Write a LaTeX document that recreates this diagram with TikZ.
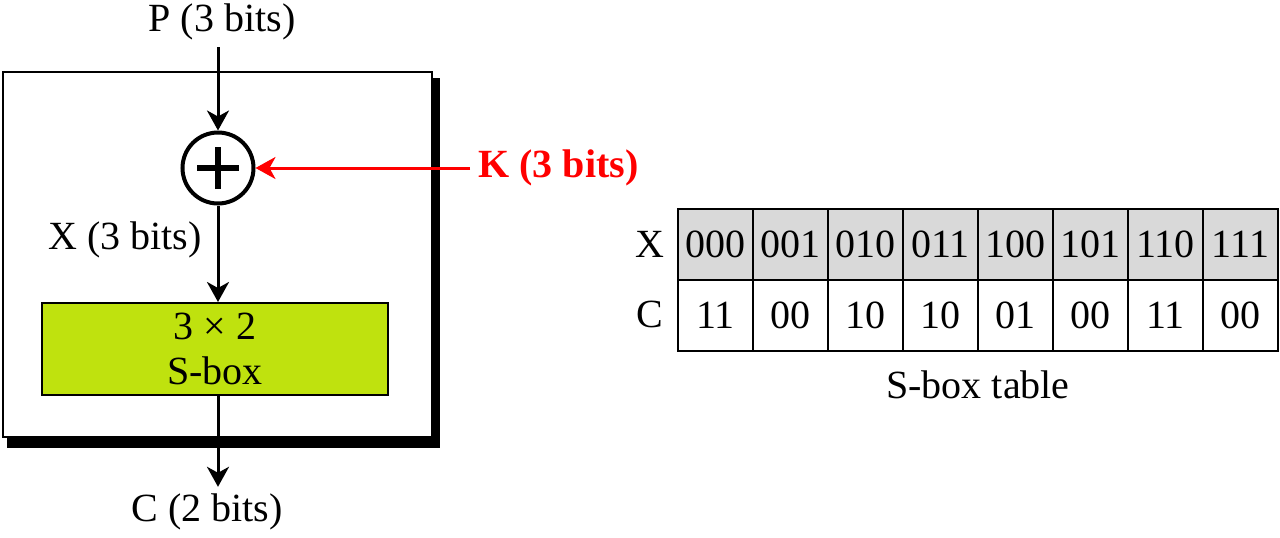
\documentclass[tikz,border=0pt]{standalone}
\usepackage{fontspec}
\setmainfont{Liberation Serif}
\usetikzlibrary{arrows.meta}
\definecolor{sboxgreen}{RGB}{191,226,14}
\definecolor{headgray}{RGB}{217,217,217}

\begin{document}
\begin{tikzpicture}[
		x=0.5pt, y=-0.5pt,
		every node/.style={font=\fontsize{20}{22.5}\selectfont},
		flow/.style={-{Stealth[length=10pt, width=11pt, inset=3pt]}, line width=1.5pt},
		cell/.style={rectangle, draw, line width=1pt, minimum width=37.5pt, minimum height=35.5pt, inner sep=0pt}
	]
  \useasboundingbox (0,0) rectangle (1280,537);

  % frame with its shadow
  \fill (7,78) rectangle (440,448);
  \draw [fill=white, line width=1pt] (3,72) rectangle (432,437);

  \node (P) at (222,22) {P (3 bits)};
  \node (xor) [circle, draw, line width=2pt, minimum size=35.5pt, inner sep=0pt] at (218,168) {};
  \node (K) [anchor=west, inner sep=4pt, text=red, font=\fontsize{20}{22.5}\selectfont\bfseries] at (470,168) {K (3 bits)};
  \node (X) at (125,240) {X (3 bits)};
  \node (sbox) [rectangle, draw, fill=sboxgreen, line width=1pt, minimum width=173pt, minimum height=46pt, align=center] at (215,349) {3 × 2\\S-box};
  \node (C) at (207,512) {C (2 bits)};

  \draw [line width=3pt] ([xshift=-10.5pt]xor.center) -- ([xshift=10.5pt]xor.center);
  \draw [line width=3pt] ([yshift=-10.5pt]xor.center) -- ([yshift=10.5pt]xor.center);

  \draw [flow] (P.south -| xor.north) -- (xor.north);
  \draw [flow, red] (K.west) -- (xor.east);
  \draw [flow] (xor.south) -- (xor.south |- sbox.north);
  \draw [flow] (sbox.south -| xor.south) -- (C.north -| xor.south);

  % S-box table
  \foreach \xv/\cv [count=\i] in {000/11, 001/00, 010/10, 011/10, 100/01, 101/00, 110/11, 111/00} {
    \node (x\i) [cell, fill=headgray] at ({640.5+75*\i}, 244.5) {\xv};
    \node (c\i) [cell] at ({640.5+75*\i}, 315) {\cv};
  }
  \node (xrow) at (650,244) {X};
  \node (crow) at (650,314) {C};
  \node (caption) at (978,385) {S-box table};
\end{tikzpicture}
\end{document}
